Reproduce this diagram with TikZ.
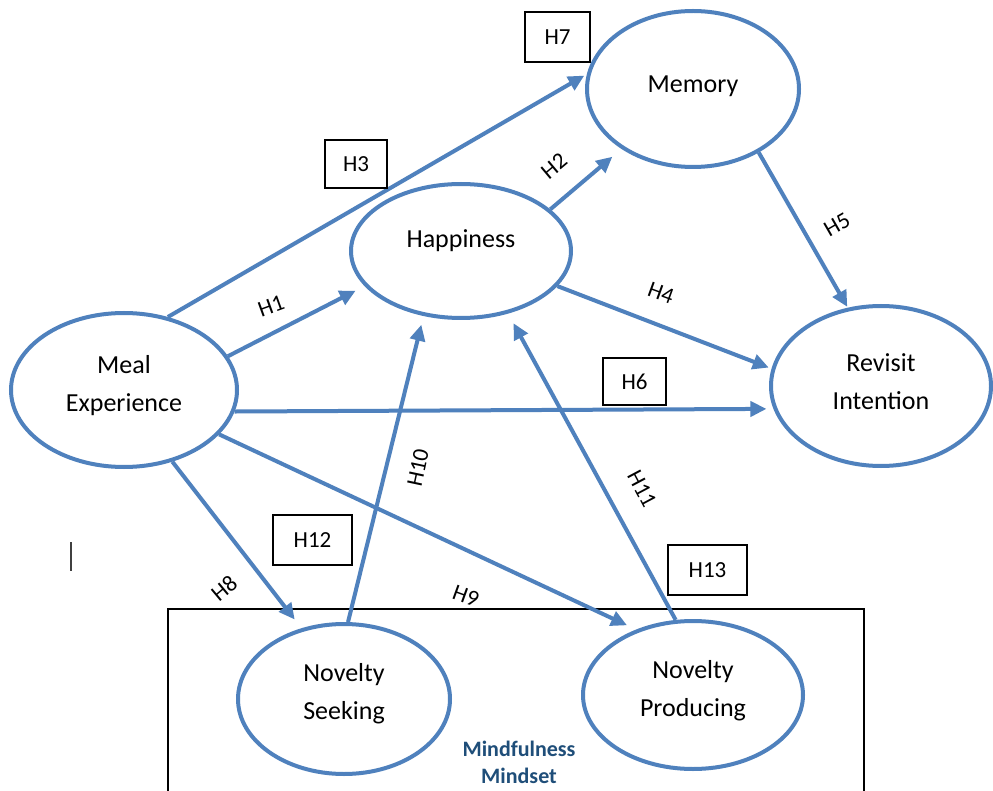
\documentclass[tikz,border=0pt]{standalone}
\usepackage{fontspec}
\setmainfont{Carlito}
\usetikzlibrary{shapes.geometric,arrows.meta}
\definecolor{lineblue}{HTML}{4F81BD}
\definecolor{mindblue}{HTML}{1F4E79}
\begin{document}
\begin{tikzpicture}[x=1pt,y=-1pt,
  construct/.style={ellipse,draw=lineblue,line width=4pt,inner sep=0pt},
  ctext/.style={align=center,inner sep=0pt,font=\fontsize{26}{38}\selectfont},
  link/.style={draw=lineblue,line width=4pt,-{Triangle[length=16pt,width=15pt]}},
  hbox/.style={draw=black,line width=1.2pt,inner sep=0pt,font=\fontsize{23}{27}\selectfont},
  hlab/.style={inner sep=0pt,font=\fontsize{23}{27}\selectfont}]
\useasboundingbox (0,0) rectangle (993,791);
\fill[white] (0,0) rectangle (993,791);

% frame
\draw[line width=1.8pt] (168,791) -- (168,609) -- (864,609) -- (864,791);
\draw[line width=1.5pt,black!75] (71,542) -- (71,571);

% constructs
\node[construct,minimum width=226pt,minimum height=154pt] (meal) at (124,390) {};
\node[construct,minimum width=220pt,minimum height=134pt] (happy) at (461,251) {};
\node[construct,minimum width=212pt,minimum height=156pt] (memory) at (693,89) {};
\node[construct,minimum width=220pt,minimum height=160pt] (revisit) at (881,386) {};
\node[construct,minimum width=212pt,minimum height=150pt] (seek) at (344,699) {};
\node[construct,minimum width=220pt,minimum height=148pt] (produce) at (693,695) {};

\node[ctext] (mealt) at (124,386) {Meal\\Experience};
\node[ctext] (happyt) at (461,241) {Happiness};
\node[ctext] (memoryt) at (693,86) {Memory};
\node[ctext] (revisitt) at (881,382) {Revisit\\Intention};
\node[ctext] (seekt) at (344,694) {Novelty\\Seeking};
\node[ctext] (producet) at (693,691) {Novelty\\Producing};

\node[align=center,inner sep=0pt,text=mindblue,font=\bfseries\fontsize{22}{27}\selectfont] (mind) at (519,762) {Mindfulness\\Mindset};

% connectors
\draw[link,shorten >=3pt] (meal.59) -- (memory.172.6);
\draw[link,shorten >=10pt] (meal.18.6) -- (happy.200.6);
\draw[link,shorten >=12pt] (happy.25.5) -- (memory.220);
\draw[link,shorten >=3pt] (happy.-20) -- (revisit.171.8);
\draw[link,shorten >=1pt] (memory.-44) -- (revisit.113.7);
\draw[link,shorten >=7pt] (meal.-11.4) -- (revisit.192.5);
\draw[link,shorten >=11pt] (meal.-56) -- (seek.121.8);
\draw[link,shorten >=10pt] (meal.-25.7) -- (produce.131.2);
\draw[link,shorten >=9pt] (seek.87) -- (happy.240.3);
\draw[link,shorten >=11pt] (produce.103.9) -- (happy.-53.8);

% boxed labels
\node[hbox,minimum width=65pt,minimum height=50pt] (h7) at (557.5,37) {H7};
\node[hbox,minimum width=62pt,minimum height=48pt] (h3) at (356,164) {H3};
\node[hbox,minimum width=63pt,minimum height=47pt] (h6) at (634.5,381.5) {H6};
\node[hbox,minimum width=79pt,minimum height=50pt] (h12) at (312.5,540) {H12};
\node[hbox,minimum width=79pt,minimum height=50pt] (h13) at (707.5,570) {H13};

% rotated labels
\node[hlab,rotate=20] (h1) at (271,306) {H1};
\node[hlab,rotate=40] (h2) at (554,166) {H2};
\node[hlab,rotate=-20] (h4) at (661,293) {H4};
\node[hlab,rotate=30] (h5) at (837,225) {H5};
\node[hlab,rotate=40] (h8) at (224,588) {H8};
\node[hlab,rotate=-20] (h9) at (466,596) {H9};
\node[hlab,rotate=78] (h10) at (418,468) {H10};
\node[hlab,rotate=-62] (h11) at (642,489) {H11};
\end{tikzpicture}
\end{document}
